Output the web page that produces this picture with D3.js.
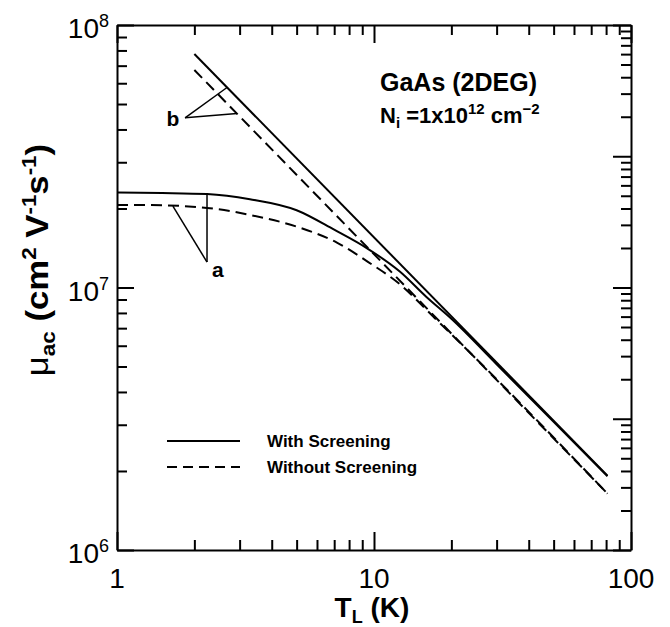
<!DOCTYPE html>
<html><head><meta charset="utf-8">
<script src="https://cdn.jsdelivr.net/npm/d3@7"></script>
<style>body{margin:0;background:#fff;} text{font-family:"Liberation Sans",Arial,sans-serif;fill:#000;}</style>
</head><body><svg id="c" width="670" height="627"></svg>
<script>
// ---- data ----
const xTicksMajor = [1, 10, 100];
const yTicksMajor = [1e6, 1e7, 1e8];
const xTickLabels = ["1", "10", "100"];
const yTickExp = ["6", "7", "8"];
// b: equipartition lines
const T_b = [2, 81];
const mu_b_with = [7.75e7, 1.92e6];
const mu_b_without = [6.74e7, 1.64e6];
// a: full curves
const T_a_with = [1, 1.5, 2.24, 3.29, 5.0, 7, 9.4, 12.6, 16, 20, 30, 50, 81];
const mu_a_with = [2.3e7, 2.29e7, 2.27e7, 2.17e7, 1.97e7, 1.66e7, 1.41e7, 1.15e7, 9.2e6, 7.6e6, 5.1e6, 3.08e6, 1.91e6];
const T_a_without = [1, 1.34, 2.24, 3.29, 5.15, 7.2, 9.5, 12.6, 17, 25, 40, 81];
const mu_a_without = [2.06e7, 2.06e7, 2.01e7, 1.89e7, 1.69e7, 1.48e7, 1.25e7, 1.03e7, 7.75e6, 5.35e6, 3.36e6, 1.64e6];
// annotation pointers (data coords)
const annB = {label: "b", at: [1.65, 4.12e7], vertex: [1.84, 4.43e7], targets: [[2.68, 5.78e7], [2.93, 4.6e7]]};
const annA = {label: "a", at: [2.47, 1.1e7], vertex: [2.24, 1.25e7], targets: [[2.24, 2.27e7], [1.65, 2.04e7]]};
const legendItems = [{name: "With Screening", dash: null}, {name: "Without Screening", dash: "10,6"}];

// ---- layout ----
const L = 117, R = 631, T = 25, B = 550;
const svg = d3.select("#c");
const x = d3.scaleLog().domain([1, 100]).range([L, R]);
const y = d3.scaleLog().domain([1e6, 1e8]).range([B, T]);
const yR = d3.scaleLog().domain([1, 1e4]).range([B, T]);

const g = svg.append("g");

function drawAxis(axisGen, transform) {
  const a = g.append("g").attr("transform", transform).call(axisGen);
  a.select(".domain").attr("stroke", "#000").attr("stroke-width", 2);
  a.selectAll(".tick text").remove();
  a.selectAll(".tick line").attr("stroke", "#000").attr("stroke-width", 2);
  return a;
}
function isMajor(v) { const l = Math.log10(v); return Math.abs(l - Math.round(l)) < 1e-9; }

// bottom & top x axes
[[d3.axisBottom, `translate(0,${B})`, -1], [d3.axisTop, `translate(0,${T})`, 1]].forEach(([fn, tr, s]) => {
  const ax = fn(x).tickValues(x.ticks()).tickSizeOuter(0).tickSizeInner(0);
  const a = drawAxis(ax, tr);
  a.selectAll(".tick line").attr("y2", d => s * (isMajor(d) ? 18 : 10));
});
// left y axis
{
  const ax = d3.axisLeft(y).tickValues(y.ticks()).tickSizeOuter(0).tickSizeInner(0);
  const a = drawAxis(ax, `translate(${L},0)`);
  a.selectAll(".tick line").attr("x2", d => isMajor(d) ? 17 : 10);
}
// right y axis (own log scale, 4 decades)
{
  const ax = d3.axisRight(yR).tickValues(yR.ticks()).tickSizeOuter(0).tickSizeInner(0);
  const a = drawAxis(ax, `translate(${R},0)`);
  a.selectAll(".tick line").attr("x2", d => -(isMajor(d) ? 18 : 10));
}

// tick labels
xTicksMajor.forEach((v, i) => {
  g.append("text").attr("x", x(v)).attr("y", B + 38).attr("text-anchor", "middle")
    .attr("font-size", 28).text(xTickLabels[i]);
});
yTicksMajor.forEach((v, i) => {
  const t = g.append("text").attr("x", L - 8).attr("y", y(v) + 13).attr("text-anchor", "end").attr("font-size", 28);
  t.append("tspan").text("10");
  t.append("tspan").attr("font-size", 18).attr("dy", -11).text(yTickExp[i]);
});

// axis titles
{
  const t = g.append("text").attr("x", x(10) - 2).attr("y", 617).attr("text-anchor", "middle")
    .attr("font-size", 28).attr("font-weight", "bold");
  t.append("tspan").text("T");
  t.append("tspan").attr("font-size", 18).attr("dy", 6).text("L");
  t.append("tspan").attr("dy", -6).text(" (K)");
}
{
  const t = g.append("text").attr("transform", `translate(48,260) rotate(-90) scale(1.12,1)`)
    .attr("text-anchor", "middle").attr("font-size", 31).attr("font-weight", "bold");
  t.append("tspan").attr("font-weight", "normal").text("\u03bc");
  t.append("tspan").attr("font-size", 20).attr("dy", 7).text("ac");
  t.append("tspan").attr("dy", -7).text(" (cm");
  t.append("tspan").attr("font-size", 20).attr("dy", -12).text("2");
  t.append("tspan").attr("dy", 12).text(" V");
  t.append("tspan").attr("font-size", 20).attr("dy", -12).text("-1");
  t.append("tspan").attr("dy", 12).text("s");
  t.append("tspan").attr("font-size", 20).attr("dy", -12).text("-1");
  t.append("tspan").attr("dy", 12).text(")");
}

// curves
const line = d3.line().x(d => x(d[0])).y(d => y(d[1]));
const lineSmooth = d3.line().x(d => x(d[0])).y(d => y(d[1])).curve(d3.curveMonotoneX);
function path(gen, Ts, mus, dash) {
  g.append("path").datum(Ts.map((t, i) => [t, mus[i]])).attr("d", gen)
    .attr("fill", "none").attr("stroke", "#000").attr("stroke-width", 2)
    .attr("stroke-dasharray", dash);
}
path(line, T_b, mu_b_with, null);
path(line, T_b, mu_b_without, "11,6");
path(lineSmooth, T_a_with, mu_a_with, null);
path(lineSmooth, T_a_without, mu_a_without, "11,6");

// annotations
[annB, annA].forEach(a => {
  a.targets.forEach(tg => {
    g.append("line").attr("x1", x(a.vertex[0])).attr("y1", y(a.vertex[1]))
      .attr("x2", x(tg[0])).attr("y2", y(tg[1])).attr("stroke", "#000").attr("stroke-width", 1.5);
  });
  g.append("text").attr("x", x(a.at[0])).attr("y", y(a.at[1])).attr("text-anchor", "middle")
    .attr("font-size", 21).attr("font-weight", "bold").text(a.label);
});

// info text
g.append("text").attr("x", 380).attr("y", 91).attr("font-size", 25).attr("font-weight", "bold").text("GaAs (2DEG)");
{
  const t = g.append("text").attr("x", 380).attr("y", 123).attr("font-size", 22).attr("font-weight", "bold");
  t.append("tspan").text("N");
  t.append("tspan").attr("font-size", 15).attr("dy", 5).text("i");
  t.append("tspan").attr("dy", -5).text(" =1x10");
  t.append("tspan").attr("font-size", 15).attr("dy", -9).text("12");
  t.append("tspan").attr("dy", 9).text(" cm");
  t.append("tspan").attr("font-size", 15).attr("dy", -9).text("\u22122");
}

// legend
legendItems.forEach((it, i) => {
  const yy = 441 + i * 26;
  g.append("line").attr("x1", 167).attr("x2", 240).attr("y1", yy).attr("y2", yy)
    .attr("stroke", "#000").attr("stroke-width", 2).attr("stroke-dasharray", it.dash);
  g.append("text").attr("x", 267).attr("y", yy + 6).attr("font-size", 17).attr("font-weight", "bold").text(it.name);
});
</script></body></html>
